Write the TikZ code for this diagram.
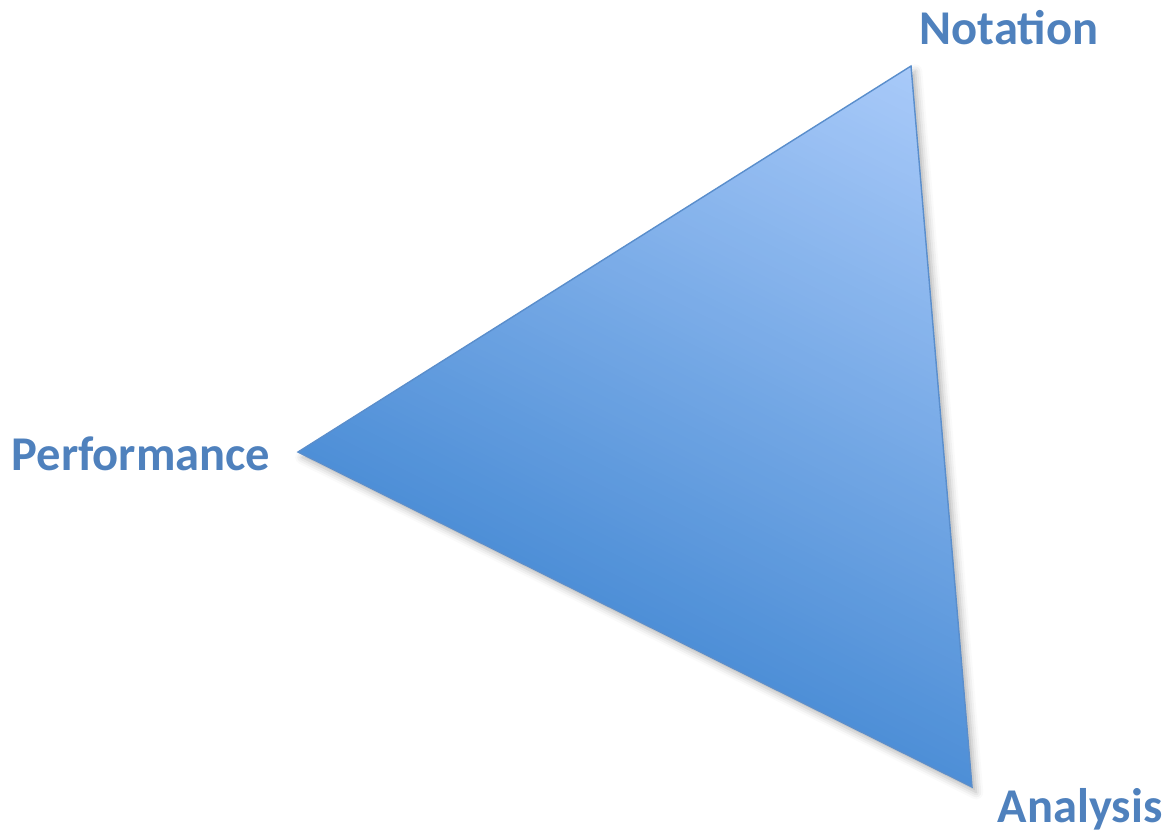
\documentclass[tikz,border=0pt]{standalone}
\usepackage{fontspec}
\setmainfont{Carlito}
\usetikzlibrary{shadows.blur}
\definecolor{Corner_Blue}{HTML}{4F81BD}
\definecolor{Tri_Light}{HTML}{A9CAF9}
\definecolor{Tri_Dark}{HTML}{4E8FD7}
\definecolor{Tri_Edge}{HTML}{5A8ECC}

\begin{document}
\begin{tikzpicture}[x=0.01cm, y=-0.01cm,
    corner/.style={font=\fontsize{13.8}{16}\selectfont\bfseries, text=Corner_Blue, inner sep=0pt}]
    % Frame
    \useasboundingbox (0,0) rectangle (1165,833);

    % Triangle corners
    \coordinate (top) at (911,66);
    \coordinate (left) at (298,452);
    \coordinate (bottom) at (972,787);

    % Soft shadow under the triangle
    \path[fill=Tri_Dark, blur shadow={shadow xshift=1.2pt, shadow yshift=-1.5pt, shadow opacity=30, shadow blur radius=2pt}]
        (top) -- (left) -- (bottom) -- cycle;

    % Gradient: bands across the triangle, dark (lower left) to light (upper right)
    \begin{scope}
        \clip (top) -- (left) -- (bottom) -- cycle;
        \foreach \i in {0,...,99} {
            \pgfmathsetmacro\bA{-272+6.18*\i}
            \pgfmathsetmacro\bB{\bA+7.5}
            \fill[Tri_Light!\i!Tri_Dark]
                ({460*0.895+\bA*0.445},{460*0.445-\bA*0.895}) --
                ({1230*0.895+\bA*0.445},{1230*0.445-\bA*0.895}) --
                ({1230*0.895+\bB*0.445},{1230*0.445-\bB*0.895}) --
                ({460*0.895+\bB*0.445},{460*0.445-\bB*0.895}) -- cycle;
        }
    \end{scope}

    % Outline
    \draw[Tri_Edge, line width=0.4pt, line join=miter] (top) -- (left) -- (bottom) -- cycle;

    % Labels
    \node[corner] (notation) at (1009,28) {Notation};
    \node[corner] (performance) at (141,454) {Performance};
    \node[corner] (analysis) at (1080,809) {Analysis};
\end{tikzpicture}
\end{document}
